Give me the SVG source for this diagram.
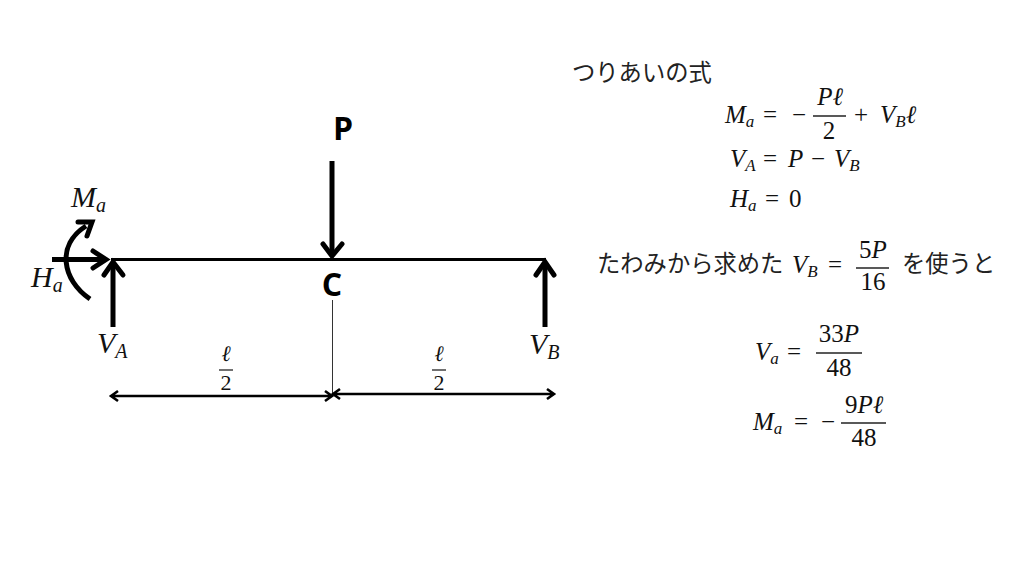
<svg xmlns="http://www.w3.org/2000/svg" width="1024" height="576" viewBox="0 0 1024 576">
<style>
.m{font-family:"Liberation Serif",serif;font-size:25px;fill:#111}
.l{font-size:30px}
.i{font-style:italic}
.s{font-size:17px}
.t{font-size:20px}
.f{font-family:"Liberation Serif",serif;font-size:25px;fill:#111;text-anchor:middle}
.g{font-size:22px}
.j{font-family:"Noto Sans CJK JP",sans-serif;font-size:23.300px;fill:#222}
.b{font-family:"Open Sans","Noto Sans",sans-serif;font-weight:700;font-size:32px;fill:#000;text-anchor:middle}
.h{fill:none;stroke:#000;stroke-width:5;stroke-linecap:butt}
.a{fill:none;stroke:#000;stroke-width:5;stroke-linecap:round;stroke-linejoin:miter}
.d{fill:none;stroke:#000;stroke-width:2.600}
.r{stroke:#222;stroke-width:1.300}
</style>
<rect width="1024" height="576" fill="#fff"/>
<g id="connectors">
<path d="M111 259.500H546" fill="none" stroke="#000" stroke-width="3"/>
<path d="M332.500 300V396" stroke="#333" stroke-width="1" fill="none"/>
<path class="h" d="M332 161V255"/><path class="a" d="M323 244L332 256L342 244"/>
<path class="h" d="M52 259.500H104"/><path class="a" d="M93 251L106 259.500L93 268"/>
<path class="h" d="M113 327V264"/><path class="a" d="M104 275L113 262L123 275"/>
<path class="h" d="M545 327V264"/><path class="a" d="M536 275L545 262L554 275"/>
<path class="h" d="M90 299C62 280 56 245 86 226"/><path class="a" d="M78 222L92 222L87 236"/>
<path class="d" d="M112 396H330M118 391L111 396L118 401M325 391L332 396L325 401"/>
<path class="d" d="M333 394H553M340 389L333 394L340 399M547 389L554 394L547 399"/>
</g>
<g id="node-P"><text class="b" x="343" y="140">P</text></g>
<g id="node-C"><text class="b" x="332" y="296">C</text></g>
<g id="label-Ma"><text class="m l" x="71" y="207"><tspan class="i">M</tspan><tspan class="i t" dy="5">a</tspan></text></g>
<g id="label-Ha"><text class="m l" x="31" y="287"><tspan class="i">H</tspan><tspan class="i t" dy="5">a</tspan></text></g>
<g id="label-VA"><text class="m l" x="97" y="353"><tspan class="i">V</tspan><tspan class="i t" dy="5">A</tspan></text></g>
<g id="label-VB"><text class="m l" x="529" y="354"><tspan class="i">V</tspan><tspan class="i t" dy="5">B</tspan></text></g>
<g id="dim-left"><text class="f i g" x="226" y="361">ℓ</text><path class="r" d="M219 370H233"/><text class="f g" x="226" y="390">2</text></g>
<g id="dim-right"><text class="f i g" x="439" y="361">ℓ</text><path class="r" d="M432 370H446"/><text class="f g" x="439" y="390">2</text></g>
<g id="title"><text class="j" x="572" y="81">つりあいの式</text></g>
<g id="eq-Ma">
<text class="m" x="725" y="123"><tspan class="i">M</tspan><tspan class="i s" dy="4">a</tspan><tspan dy="-4" x="763">=</tspan><tspan x="792">−</tspan></text>
<text class="f i" x="830" y="105">Pℓ</text><path class="r" d="M813 116H846"/><text class="f" x="829" y="139">2</text>
<text class="m" x="854" y="123">+<tspan class="i" x="880">V</tspan><tspan class="i s" dy="4">B</tspan><tspan class="i" dy="-4">ℓ</tspan></text>
</g>
<g id="eq-VA"><text class="m" x="730" y="167"><tspan class="i">V</tspan><tspan class="i s" dy="4">A</tspan><tspan dy="-4" x="763">=</tspan><tspan class="i" x="788">P</tspan><tspan x="811">−</tspan><tspan class="i" x="834">V</tspan><tspan class="i s" dy="4">B</tspan></text></g>
<g id="eq-Ha"><text class="m" x="730" y="207"><tspan class="i">H</tspan><tspan class="i s" dy="4">a</tspan><tspan dy="-4" x="765">=</tspan><tspan x="789">0</tspan></text></g>
<g id="eq-use">
<text class="j" x="597" y="272">たわみから求めた</text>
<text class="m" x="792" y="273"><tspan class="i">V</tspan><tspan class="i s" dy="4">B</tspan><tspan dy="-4" x="828">=</tspan></text>
<text class="f" x="873" y="258">5<tspan class="i">P</tspan></text><path class="r" d="M856 268H889"/><text class="f" x="873" y="290">16</text>
<text class="j" x="902" y="272">を使うと</text>
</g>
<g id="eq-Va"><text class="m" x="755" y="360"><tspan class="i">V</tspan><tspan class="i s" dy="4">a</tspan><tspan dy="-4" x="787">=</tspan></text>
<text class="f" x="839" y="342">33<tspan class="i">P</tspan></text><path class="r" d="M816 353H862"/><text class="f" x="839" y="376">48</text></g>
<g id="eq-Ma2"><text class="m" x="753" y="430"><tspan class="i">M</tspan><tspan class="i s" dy="4">a</tspan><tspan dy="-4" x="794">=</tspan><tspan x="821">−</tspan></text>
<text class="f" x="864" y="413">9<tspan class="i">Pℓ</tspan></text><path class="r" d="M841 423H886"/><text class="f" x="864" y="446">48</text></g>
</svg>
